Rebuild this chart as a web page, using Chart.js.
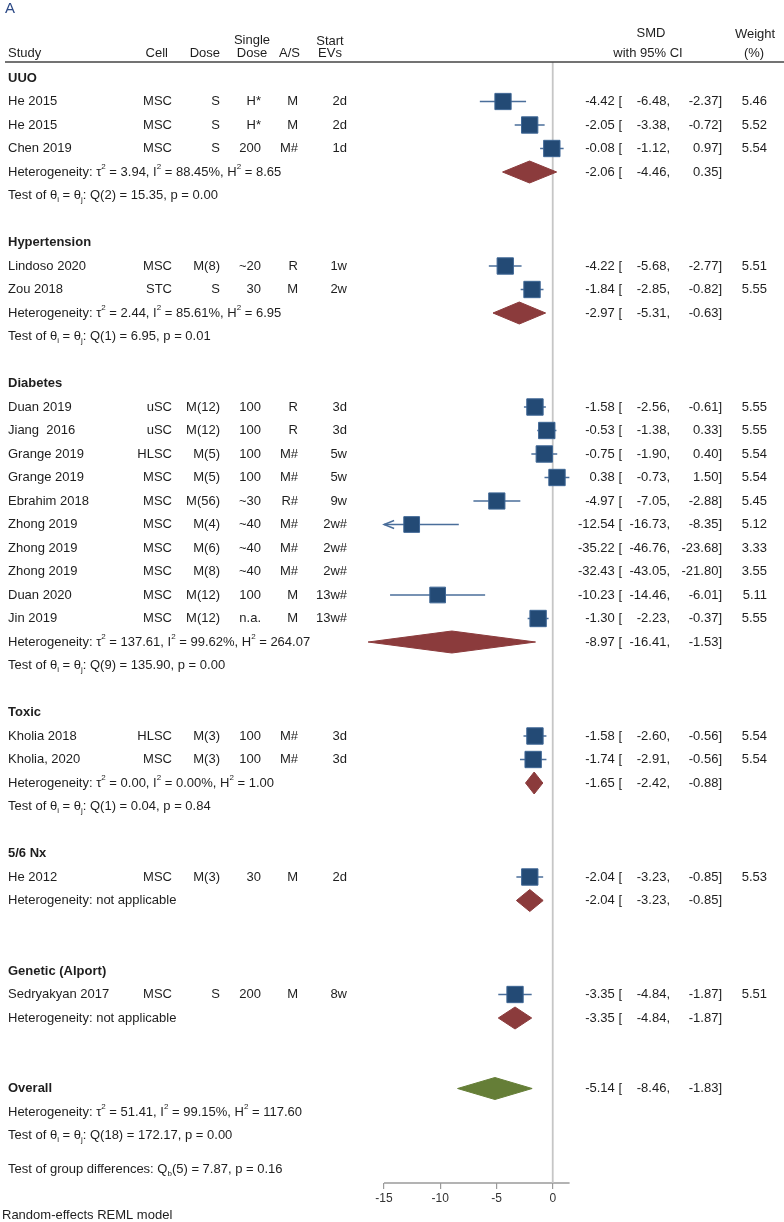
<!DOCTYPE html>
<html>
<head>
<meta charset="utf-8">
<script src="https://cdn.jsdelivr.net/npm/chart.js@4"></script>
<style>
  html, body { margin: 0; padding: 0; background: #fff; }
  canvas { display: block; }
</style>
</head>
<body>
<canvas id="forest" width="784" height="1222" style="width:784px;height:1222px"></canvas>
<script>
// ---- data ----
const groupNames = ['UUO', 'Hypertension', 'Diabetes', 'Toxic', '5/6 Nx', 'Genetic (Alport)'];

const studyNames = ['He 2015', 'He 2015', 'Chen 2019', 'Lindoso 2020', 'Zou 2018', 'Duan 2019', 'Jiang  2016',
  'Grange 2019', 'Grange 2019', 'Ebrahim 2018', 'Zhong 2019', 'Zhong 2019', 'Zhong 2019', 'Duan 2020', 'Jin 2019',
  'Kholia 2018', 'Kholia, 2020', 'He 2012', 'Sedryakyan 2017'];
const studyGroup = [0, 0, 0, 1, 1, 2, 2, 2, 2, 2, 2, 2, 2, 2, 2, 3, 3, 4, 5];
const studyCell = ['MSC', 'MSC', 'MSC', 'MSC', 'STC', 'uSC', 'uSC', 'HLSC', 'MSC', 'MSC', 'MSC', 'MSC', 'MSC', 'MSC', 'MSC', 'HLSC', 'MSC', 'MSC', 'MSC'];
const studyDose = ['S', 'S', 'S', 'M(8)', 'S', 'M(12)', 'M(12)', 'M(5)', 'M(5)', 'M(56)', 'M(4)', 'M(6)', 'M(8)', 'M(12)', 'M(12)', 'M(3)', 'M(3)', 'M(3)', 'S'];
const studySingleDose = ['H*', 'H*', '200', '~20', '30', '100', '100', '100', '100', '~30', '~40', '~40', '~40', '100', 'n.a.', '100', '100', '30', '200'];
const studyAS = ['M', 'M', 'M#', 'R', 'M', 'R', 'R', 'M#', 'M#', 'R#', 'M#', 'M#', 'M#', 'M', 'M', 'M#', 'M#', 'M', 'M'];
const studyStart = ['2d', '2d', '1d', '1w', '2w', '3d', '3d', '5w', '5w', '9w', '2w#', '2w#', '2w#', '13w#', '13w#', '3d', '3d', '2d', '8w'];
const studySMD = [-4.42, -2.05, -0.08, -4.22, -1.84, -1.58, -0.53, -0.75, 0.38, -4.97, -12.54, -35.22, -32.43, -10.23, -1.30, -1.58, -1.74, -2.04, -3.35];
const studyLow = [-6.48, -3.38, -1.12, -5.68, -2.85, -2.56, -1.38, -1.90, -0.73, -7.05, -16.73, -46.76, -43.05, -14.46, -2.23, -2.60, -2.91, -3.23, -4.84];
const studyHigh = [-2.37, -0.72, 0.97, -2.77, -0.82, -0.61, 0.33, 0.40, 1.50, -2.88, -8.35, -23.68, -21.80, -6.01, -0.37, -0.56, -0.56, -0.85, -1.87];
const studyWeight = [5.46, 5.52, 5.54, 5.51, 5.55, 5.55, 5.55, 5.54, 5.54, 5.45, 5.12, 3.33, 3.55, 5.11, 5.55, 5.54, 5.54, 5.53, 5.51];

const groupSMD = [-2.06, -2.97, -8.97, -1.65, -2.04, -3.35];
const groupLow = [-4.46, -5.31, -16.41, -2.42, -3.23, -4.84];
const groupHigh = [0.35, -0.63, -1.53, -0.88, -0.85, -1.87];
const groupTau2 = [3.94, 2.44, 137.61, 0.00, null, null];
const groupI2 = [88.45, 85.61, 99.62, 0.00, null, null];
const groupH2 = [8.65, 6.95, 264.07, 1.00, null, null];
const groupQdf = [2, 1, 9, 1, null, null];
const groupQ = [15.35, 6.95, 135.90, 0.04, null, null];
const groupP = [0.00, 0.01, 0.00, 0.84, null, null];

const overallEst = [-5.14, -8.46, -1.83];      // SMD, lower, upper
const overallHet = [51.41, 99.15, 117.60];     // tau2, I2, H2
const overallTest = [18, 172.17, 0.00];        // df, Q, p
const groupDiffTest = [5, 7.87, 0.16];         // df, Qb, p

const xTickValues = [-15, -10, -5, 0];

// ---- layout ----
const FONT = '"Liberation Sans", Arial, Helvetica, sans-serif';
const TEXT = '#1e1e1e';
const SQUARE = '#234a75';
const WHISKER = '#4a6e9a';
const RED = '#8b3b3c';
const GREEN = '#657e37';

const ROW0 = 78, ROW_H = 23.5;
const AXIS_MIN = -15, AXIS_MAX = 1.5, X_MIN = -17;
const yMin = (62 - ROW0) / ROW_H;
const yMax = (1183 - ROW0) / ROW_H;
const DIAMOND_H = 11 / ROW_H;

// row index of every line of the table
const studyRow = [], headerRow = [], sumRow = [], testRow = [];
let k = 0;
groupNames.forEach((g, gi) => {
  headerRow[gi] = k++;
  studyGroup.forEach((sg, i) => { if (sg === gi) studyRow[i] = k++; });
  sumRow[gi] = k++;
  if (groupQ[gi] !== null) { testRow[gi] = k++; k += 1; } else { k += 2; }
});
const overallRow = k;
const overallHetRow = k + 1;
const overallTestRow = k + 2;
const groupDiffRow = k + 3.45;

// ---- datasets ----
const datasets = [];

datasets.push({
  type: 'line', data: [{ x: 0, y: yMin }, { x: 0, y: yMax }],
  borderColor: '#c6c6c6', borderWidth: 1.8, pointRadius: 0, order: 9
});
datasets.push({
  type: 'line', data: [{ x: AXIS_MIN, y: yMax }, { x: AXIS_MAX, y: yMax }],
  borderColor: '#9a9a9a', borderWidth: 1.4, pointRadius: 0, clip: false, order: 9
});

studySMD.forEach((est, i) => {
  if (studyHigh[i] < AXIS_MIN) return;
  const r = studyRow[i];
  const lo = Math.max(studyLow[i], AXIS_MIN);
  const hi = Math.min(studyHigh[i], AXIS_MAX);
  datasets.push({
    type: 'line', data: [{ x: lo, y: r }, { x: hi, y: r }],
    borderColor: WHISKER, borderWidth: 1.4, pointRadius: 0, order: 6
  });
  if (studyLow[i] < AXIS_MIN) {
    datasets.push({
      type: 'line',
      data: [{ x: AXIS_MIN + 0.9, y: r - 0.17 }, { x: AXIS_MIN, y: r }, { x: AXIS_MIN + 0.9, y: r + 0.17 }],
      borderColor: WHISKER, borderWidth: 1.4, pointRadius: 0, clip: false, order: 6
    });
  }
});

const shown = studySMD.map((v, i) => i).filter(i => studySMD[i] >= AXIS_MIN && studySMD[i] <= AXIS_MAX);
datasets.push({
  type: 'scatter',
  data: shown.map(i => ({ x: studySMD[i], y: studyRow[i] })),
  pointStyle: 'rect',
  pointRadius: shown.map(i => 16.3 * Math.sqrt(studyWeight[i] / 5.5) / Math.SQRT2),
  pointHoverRadius: shown.map(i => 16.3 * Math.sqrt(studyWeight[i] / 5.5) / Math.SQRT2),
  backgroundColor: SQUARE, borderColor: '#3f6795', borderWidth: 1, order: 1
});

function diamond(est, lo, hi, r, color) {
  return {
    type: 'line',
    data: [{ x: lo, y: r }, { x: est, y: r - DIAMOND_H }, { x: hi, y: r }, { x: est, y: r + DIAMOND_H }, { x: lo, y: r }],
    borderColor: color, backgroundColor: color, borderWidth: 1, fill: 'shape',
    pointRadius: 0, tension: 0, order: 3
  };
}
groupSMD.forEach((est, gi) => datasets.push(diamond(est, groupLow[gi], groupHigh[gi], sumRow[gi], RED)));
datasets.push(diamond(overallEst[0], overallEst[1], overallEst[2], overallRow, GREEN));

// ---- text ----
const f2 = v => v.toFixed(2);

function put(ctx, text, x, y, align, font) {
  ctx.font = font || `13px ${FONT}`;
  ctx.textAlign = align || 'left';
  ctx.fillText(text, x, y);
}

function rich(ctx, runs, x, y) {
  let cx = x;
  ctx.textAlign = 'left';
  runs.forEach(([t, mode]) => {
    ctx.font = mode ? `8px ${FONT}` : `13px ${FONT}`;
    const dy = mode === 'sup' ? -5 : mode === 'sub' ? 4 : 0;
    ctx.fillText(t, cx, y + dy);
    cx += ctx.measureText(t).width;
  });
}

function hetRuns(t2, i2, h2) {
  return [['Heterogeneity: τ'], ['2', 'sup'], [' = ' + f2(t2) + ', I'], ['2', 'sup'],
    [' = ' + f2(i2) + '%, H'], ['2', 'sup'], [' = ' + f2(h2)]];
}
function testRuns(df, q, p) {
  return [['Test of θ'], ['i', 'sub'], [' = θ'], ['j', 'sub'], [': Q(' + df + ') = ' + f2(q) + ', p = ' + f2(p)]];
}
function ciText(ctx, est, lo, hi, y) {
  put(ctx, f2(est) + ' [', 622, y, 'right');
  put(ctx, f2(lo) + ',', 670, y, 'right');
  put(ctx, f2(hi) + ']', 722, y, 'right');
}

const textPlugin = {
  id: 'forestText',
  afterDraw(chart) {
    const ctx = chart.ctx;
    const py = r => chart.scales.y.getPixelForValue(r);
    ctx.save();
    ctx.textBaseline = 'middle';

    ctx.fillStyle = '#2d4a86';
    put(ctx, 'A', 5, 9, 'left', `15px ${FONT}`);

    ctx.fillStyle = TEXT;
    put(ctx, 'Study', 8, 53);
    put(ctx, 'Cell', 168, 53, 'right');
    put(ctx, 'Dose', 220, 53, 'right');
    put(ctx, 'Single', 252, 40, 'center');
    put(ctx, 'Dose', 252, 53, 'center');
    put(ctx, 'A/S', 300, 53, 'right');
    put(ctx, 'Start', 330, 41, 'center');
    put(ctx, 'EVs', 330, 53, 'center');
    put(ctx, 'SMD', 651, 33, 'center');
    put(ctx, 'with 95% CI', 648, 53, 'center');
    put(ctx, 'Weight', 755, 34, 'center');
    put(ctx, '(%)', 754, 53, 'center');

    ctx.strokeStyle = '#444';
    ctx.lineWidth = 1.5;
    ctx.beginPath();
    ctx.moveTo(5, 62);
    ctx.lineTo(784, 62);
    ctx.stroke();

    groupNames.forEach((g, gi) => {
      put(ctx, g, 8, py(headerRow[gi]), 'left', `bold 13px ${FONT}`);
      if (groupTau2[gi] !== null) {
        rich(ctx, hetRuns(groupTau2[gi], groupI2[gi], groupH2[gi]), 8, py(sumRow[gi]));
        rich(ctx, testRuns(groupQdf[gi], groupQ[gi], groupP[gi]), 8, py(testRow[gi]));
      } else {
        put(ctx, 'Heterogeneity: not applicable', 8, py(sumRow[gi]));
      }
      ciText(ctx, groupSMD[gi], groupLow[gi], groupHigh[gi], py(sumRow[gi]));
    });

    studyNames.forEach((s, i) => {
      const y = py(studyRow[i]);
      put(ctx, s, 8, y);
      put(ctx, studyCell[i], 172, y, 'right');
      put(ctx, studyDose[i], 220, y, 'right');
      put(ctx, studySingleDose[i], 261, y, 'right');
      put(ctx, studyAS[i], 298, y, 'right');
      put(ctx, studyStart[i], 347, y, 'right');
      ciText(ctx, studySMD[i], studyLow[i], studyHigh[i], y);
      put(ctx, f2(studyWeight[i]), 767, y, 'right');
    });

    put(ctx, 'Overall', 8, py(overallRow), 'left', `bold 13px ${FONT}`);
    ciText(ctx, overallEst[0], overallEst[1], overallEst[2], py(overallRow));
    rich(ctx, hetRuns(overallHet[0], overallHet[1], overallHet[2]), 8, py(overallHetRow));
    rich(ctx, testRuns(overallTest[0], overallTest[1], overallTest[2]), 8, py(overallTestRow));
    rich(ctx, [['Test of group differences: Q'], ['b', 'sub'],
      ['(' + groupDiffTest[0] + ') = ' + f2(groupDiffTest[1]) + ', p = ' + f2(groupDiffTest[2])]], 8, py(groupDiffRow));

    put(ctx, 'Random-effects REML model', 2, 1215);
    ctx.restore();
  }
};

new Chart(document.getElementById('forest').getContext('2d'), {
  type: 'scatter',
  data: { datasets },
  options: {
    responsive: false,
    animation: false,
    events: [],
    layout: { padding: { left: 361.5, right: 214.4, top: 62, bottom: 0 } },
    plugins: { legend: { display: false }, tooltip: { enabled: false } },
    scales: {
      x: {
        type: 'linear', min: X_MIN, max: AXIS_MAX, bounds: 'data',
        afterBuildTicks: s => { s.ticks = xTickValues.map(v => ({ value: v })); },
        afterFit: s => { s.height = 39; },
        grid: { drawOnChartArea: false, drawTicks: true, tickLength: 6, color: '#9a9a9a', lineWidth: 1.2 },
        border: { display: false },
        ticks: { color: '#333', font: { family: FONT, size: 12 }, padding: 2, maxRotation: 0, autoSkip: false }
      },
      y: { type: 'linear', reverse: true, min: yMin, max: yMax, display: false }
    }
  },
  plugins: [textPlugin]
});
</script>
</body>
</html>
